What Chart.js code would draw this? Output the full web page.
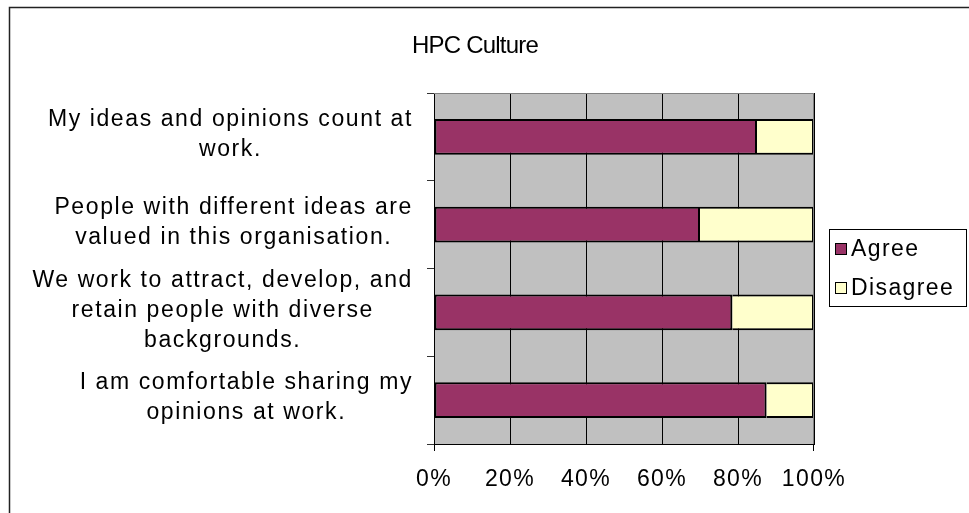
<!DOCTYPE html>
<html>
<head>
<meta charset="utf-8">
<title>HPC Culture</title>
<script src="https://cdn.jsdelivr.net/npm/chart.js@4/dist/chart.umd.min.js"></script>
<style>
  html, body { margin: 0; padding: 0; background: #fff; }
  #wrap { width: 969px; height: 513px; }
</style>
</head>
<body>
<div id="wrap"><canvas id="hpcChart" width="969" height="513"></canvas></div>
<script>
// survey statements, one array of wrapped lines per bar
const statements = [
  ['My ideas and opinions count at', 'work.'],
  ['People with different ideas are', 'valued in this organisation.'],
  ['We work to attract, develop, and', 'retain people with diverse', 'backgrounds.'],
  ['I am comfortable sharing my', 'opinions at work.']
];
const agree = [85, 70, 78.5, 87.5];
const disagree = [15, 30, 21.5, 12.5];
const xTicks = [0, 20, 40, 60, 80, 100];

const FONT = '"Liberation Sans", Arial, Helvetica, sans-serif';

// page furniture: outer frame, plot fill, plot border, title, wrapped labels, legend
const excelLook = {
  id: 'excelLook',
  beforeUpdate(chart) {
    chart.ctx.letterSpacing = '1.4px';
  },
  beforeDraw(chart) {
    const { ctx, chartArea: a } = chart;
    ctx.save();
    ctx.fillStyle = '#fff';
    ctx.fillRect(0, 0, chart.width, chart.height);
    ctx.strokeStyle = '#222';
    ctx.lineWidth = 1.5;
    ctx.strokeRect(9.5, 7.5, 1200, 1200);
    ctx.fillStyle = '#c0c0c0';
    ctx.fillRect(a.left, a.top, a.right - a.left, a.bottom - a.top);
    ctx.restore();
  },
  afterDraw(chart) {
    const { ctx, chartArea: a } = chart;
    const yScale = chart.scales.y;
    ctx.save();

    // gray top/right edge of the plot
    ctx.strokeStyle = '#808080';
    ctx.lineWidth = 1;
    ctx.beginPath();
    ctx.moveTo(a.left, a.top + 0.5);
    ctx.lineTo(a.right - 0.5, a.top + 0.5);
    ctx.lineTo(a.right - 0.5, a.bottom);
    ctx.stroke();

    // short marks under the axis ends
    ctx.strokeStyle = '#000';
    ctx.beginPath();
    ctx.moveTo(a.left + 0.5, a.bottom);
    ctx.lineTo(a.left + 0.5, a.bottom + 7);
    ctx.moveTo(a.right - 0.5, a.bottom);
    ctx.lineTo(a.right - 0.5, a.bottom + 7);
    ctx.stroke();

    // title
    ctx.letterSpacing = '-0.8px';
    ctx.fillStyle = '#000';
    ctx.font = '24px ' + FONT;
    ctx.textAlign = 'center';
    ctx.textBaseline = 'alphabetic';
    ctx.fillText('HPC Culture', 475, 53);

    // category labels: lines centred on each other, block right-aligned
    ctx.letterSpacing = '1.6px';
    ctx.font = '23px ' + FONT;
    ctx.textBaseline = 'middle';
    const right = 413, lh = 30;
    statements.forEach((lines, i) => {
      const cy = yScale.getPixelForValue(i) - 2;
      const w = Math.max(...lines.map(l => ctx.measureText(l).width));
      const cx = right - w / 2;
      lines.forEach((l, j) => {
        ctx.fillText(l, cx, cy + (j - (lines.length - 1) / 2) * lh);
      });
    });

    // legend box
    ctx.letterSpacing = '1.4px';
    ctx.strokeStyle = '#000';
    ctx.lineWidth = 1;
    ctx.strokeRect(829.5, 229.5, 137, 77);
    ctx.textAlign = 'left';
    chart.data.datasets.forEach((ds, i) => {
      const y = 249 + i * 39;
      ctx.fillStyle = ds.backgroundColor;
      ctx.fillRect(835, y - 6, 12, 12);
      ctx.strokeRect(835.5, y - 5.5, 11, 11);
      ctx.fillStyle = '#000';
      ctx.fillText(ds.label, 851, y + 1);
    });
    ctx.restore();
  }
};

new Chart(document.getElementById('hpcChart'), {
  type: 'bar',
  data: {
    labels: statements,
    datasets: [
      {
        label: 'Agree',
        data: agree,
        backgroundColor: '#993366',
        borderColor: '#000',
        borderWidth: 2,
        borderSkipped: false
      },
      {
        label: 'Disagree',
        data: disagree,
        backgroundColor: '#ffffcc',
        borderColor: '#000',
        borderWidth: { top: 2, right: 2, bottom: 2, left: 0 },
        borderSkipped: false
      }
    ]
  },
  options: {
    indexAxis: 'y',
    responsive: false,
    animation: false,
    categoryPercentage: 1,
    barPercentage: 0.41,
    layout: { padding: { left: 426, right: 155, top: 93, bottom: 20 } },
    plugins: {
      legend: { display: false },
      title: { display: false },
      tooltip: { enabled: false }
    },
    scales: {
      x: {
        stacked: true,
        min: 0,
        max: 100,
        afterBuildTicks(scale) {
          scale.ticks = xTicks.map(v => ({ value: v }));
        },
        grid: { color: '#000', lineWidth: 1, drawTicks: false },
        border: { color: '#000', width: 1 },
        ticks: {
          color: '#000',
          padding: 22,
          font: { family: FONT, size: 23 },
          callback: v => v + '%'
        },
        afterFit(scale) { scale.height = 49; }
      },
      y: {
        stacked: true,
        grid: {
          drawOnChartArea: false,
          drawTicks: true,
          tickLength: 7,
          color: '#333'
        },
        border: { color: '#000', width: 1 },
        ticks: { display: false },
        afterFit(scale) { scale.width = 8; }
      }
    }
  },
  plugins: [excelLook]
});
</script>
</body>
</html>
